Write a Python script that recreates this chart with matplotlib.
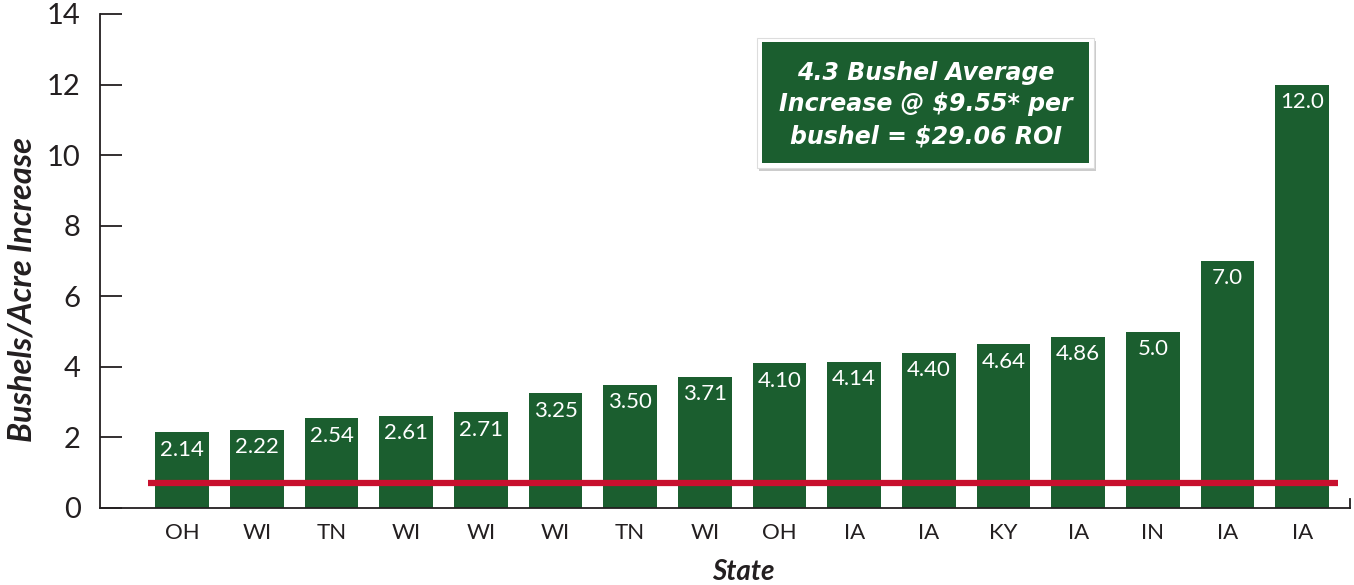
import matplotlib
matplotlib.use("Agg")
import matplotlib.pyplot as plt
from matplotlib.patches import Rectangle
import numpy as np

states = ["OH", "WI", "TN", "WI", "WI", "WI", "TN", "WI", "OH", "IA", "IA", "KY", "IA", "IN", "IA", "IA"]
values = [2.14, 2.22, 2.54, 2.61, 2.71, 3.25, 3.50, 3.71, 4.10, 4.14, 4.40, 4.64, 4.86, 5.0, 7.0, 12.0]
labels = ["2.14", "2.22", "2.54", "2.61", "2.71", "3.25", "3.50", "3.71", "4.10", "4.14", "4.40", "4.64", "4.86", "5.0", "7.0", "12.0"]
baseline = 0.72
yticks = [0, 2, 4, 6, 8, 10, 12, 14]
note = "4.3 Bushel Average\nIncrease @ $9.55* per\nbushel = $29.06 ROI"

GREEN = "#1b5e2f"
RED = "#c8102e"
INK = "#231f20"
plt.rcParams["font.family"] = ["Lato", "DejaVu Sans"]

fig = plt.figure(figsize=(13.54, 5.85), dpi=100)
W, H = 1354, 585
ax = fig.add_axes([100 / W, 1 - 508 / H, 1250 / W, (508 - 14) / H])

x = np.arange(len(values))
ax.bar(x, values, width=0.72, color=GREEN, zorder=2)
for xi, v, lab in zip(x, values, labels):
    ax.annotate(lab, (xi, v), xytext=(0, -12.5), textcoords="offset points",
                ha="center", va="center", color="white", fontsize=16, zorder=4)

ax.plot([-0.46, len(values) - 1 + 0.48], [baseline, baseline], color=RED, lw=4.5,
        solid_capstyle="butt", zorder=3)

ax.set_xlim(-1.1, len(values) - 1 + 0.64)
ax.set_ylim(0, 14)
ax.set_yticks(yticks)
ax.set_yticklabels([str(t) for t in yticks], fontsize=21, color=INK)
ax.tick_params(axis="y", direction="in", length=16, width=1.3, color=INK, pad=14)
ax.set_xticks(x)
ax.set_xticklabels(states, fontsize=16, color=INK)
ax.tick_params(axis="x", length=0, pad=11)
for s in ["top", "right"]:
    ax.spines[s].set_visible(False)
for s in ["left", "bottom"]:
    ax.spines[s].set_color(INK)
    ax.spines[s].set_linewidth(1.3)
ax.plot([len(values) - 1 + 0.64] * 2, [0, 0.25], color=INK, lw=1.3, clip_on=False)

ax.set_ylabel("Bushels/Acre Increase", fontsize=23.5, fontweight="bold", fontstyle="italic",
              color=INK)
ax.yaxis.set_label_coords(-63 / 1250, (508 - 290) / 494)
fig.text(743 / W, 1 - 572 / H, "State", fontsize=20, fontweight="bold", fontstyle="italic",
         color=INK, ha="center", va="center")

bx0, by0, bx1, by1 = 757, 38, 1094, 168
shadow = Rectangle((bx0 / W + 2 / W, 1 - (by1 + 3) / H), (bx1 - bx0) / W, (by1 - by0) / H,
                   transform=fig.transFigure, facecolor="#cccccc", edgecolor="none", zorder=5)
fig.add_artist(shadow)
outer = Rectangle((bx0 / W, 1 - by1 / H), (bx1 - bx0) / W, (by1 - by0) / H,
                  transform=fig.transFigure, facecolor="white", edgecolor="#dddddd", lw=0.8, zorder=6)
fig.add_artist(outer)
gx0, gy0, gx1, gy1 = 762, 42, 1089, 163
inner = Rectangle((gx0 / W, 1 - gy1 / H), (gx1 - gx0) / W, (gy1 - gy0) / H,
                  transform=fig.transFigure, facecolor=GREEN, edgecolor="none", zorder=7)
fig.add_artist(inner)
fig.text((gx0 + gx1) / 2 / W, 1 - 104.5 / H, note, fontsize=17, fontweight="bold",
         fontstyle="italic", color="white", ha="center", va="center", linespacing=1.4,
         zorder=8, family=["DejaVu Sans"])

fig.savefig("out.png", dpi=100)
